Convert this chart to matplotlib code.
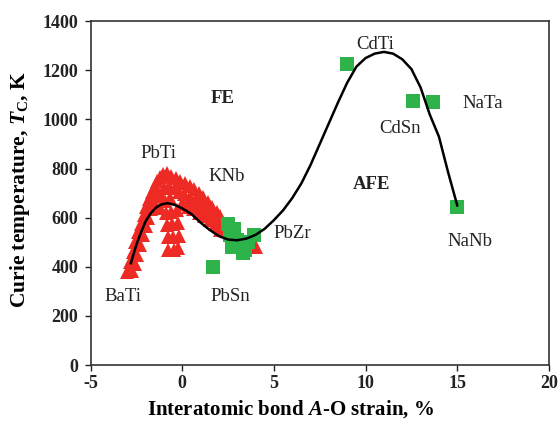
import matplotlib
matplotlib.use('Agg')
import matplotlib.pyplot as plt

plt.rcParams['font.family'] = 'Liberation Serif'
plt.rcParams['mathtext.fontset'] = 'custom'
plt.rcParams['mathtext.rm'] = 'Liberation Serif:bold'
plt.rcParams['mathtext.it'] = 'Liberation Serif:italic:bold'
plt.rcParams['axes.unicode_minus'] = False

# red triangles (Pb/Ba/K based compounds)
tri_x = [-3.0, -2.85, -2.7, -2.55, -2.4, -2.25, -2.1, -1.95, -1.8, -1.65, -1.5, -1.35, -1.2, -1.05,
         -2.75, -2.6, -2.45, -2.3, -2.15, -2.0, -1.85, -1.7, -1.55, -1.4,
         -0.75, -0.45, -0.25, -0.8, -0.5, -0.2, -0.85, -0.55, -0.25, -0.9, -0.6, -0.3,
         -0.95, -0.65, -1.0, -0.7, -1.2, -1.15,
         -0.85, -0.6, -0.35, -0.1, 0.15, 0.4, 0.65, 0.9, 1.15, 1.4, 1.65, 1.9, 2.05,
         -0.4, -0.2, 0.1, 0.4, 0.7, 1.0, 1.3, 1.6, 1.9, 2.05, 2.05,
         0.0, 0.3, 0.6, 0.9, 1.2, 1.5, 1.8, 3.5, 4.0]
tri_y = [380, 420, 460, 500, 540, 575, 610, 645, 675, 705, 730, 750, 765, 778,
         385, 410, 450, 490, 530, 565, 600, 635, 665, 695,
         470, 470, 475, 520, 520, 525, 570, 575, 580, 620, 625, 630,
         670, 680, 720, 730, 640, 690,
         780, 770, 760, 750, 740, 730, 715, 700, 685, 665, 645, 625, 605,
         720, 705, 695, 685, 670, 650, 630, 610, 590, 570, 550,
         655, 645, 635, 620, 605, 590, 575, 500, 480]

# green squares
sq_x = [9.0, 12.6, 13.7, 15.0, 1.7, 2.5, 2.6, 3.0, 2.7, 3.4, 3.6, 3.9, 2.8, 3.3]
sq_y = [1225, 1075, 1070, 643, 400, 575, 530, 510, 480, 470, 500, 530, 555, 455]

# fitted trend line
fit_x = [-2.8, -2.5, -2.25, -2.0, -1.7, -1.4, -1.1, -0.8, -0.4, 0.0, 0.5, 1.0, 1.5, 2.0, 2.5,
         3.0, 3.5, 4.0, 4.5, 5.0, 5.5, 6.0, 6.5, 7.0, 7.5, 8.0, 8.5, 9.0, 9.5, 10.0, 10.5,
         11.0, 11.5, 12.0, 12.5, 13.0, 13.25, 13.5, 14.0, 14.5, 15.0]
fit_y = [415, 490, 540, 585, 620, 643, 655, 659, 652, 638, 615, 580, 550, 525, 511,
         508, 515, 530, 555, 590, 630, 680, 740, 815, 900, 985, 1070, 1150, 1215, 1250, 1268,
         1275, 1268, 1245, 1205, 1130, 1075, 1020, 930, 785, 650]

labels = ['FE', 'AFE', 'PbTi', 'KNb', 'CdTi', 'CdSn', 'NaTa', 'NaNb', 'PbZr', 'PbSn', 'BaTi']
label_x = [2.2, 10.3, -1.3, 2.4, 10.5, 11.9, 16.4, 15.7, 6.0, 2.6, -3.25]
label_y = [1085, 735, 862, 768, 1305, 964, 1065, 504, 536, 280, 280]
label_bold = [True, True] + [False] * 9

fig = plt.figure(figsize=(5.59, 4.24), dpi=100)
ax = fig.add_axes([0.162, 0.139, 0.82, 0.811])

ax.plot(tri_x, tri_y, '^', color='#ee2a24', markersize=9.5, markeredgewidth=0, zorder=2)
ax.plot(sq_x, sq_y, 's', color='#2db34a', markersize=10.5, markeredgewidth=0, zorder=3)
ax.plot(fit_x, fit_y, '-', color='black', linewidth=1.8, zorder=4)

for t, x, y, b in zip(labels, label_x, label_y, label_bold):
    ax.text(x, y, t, fontsize=13.5, ha='center', va='center',
            fontweight='bold' if b else 'normal', color='#222222', zorder=5)

ax.set_xlim(-5, 20)
ax.set_ylim(0, 1400)
ax.set_xticks([-5, 0, 5, 10, 15, 20])
ax.set_yticks(range(0, 1401, 200))
for lab in ax.get_xticklabels() + ax.get_yticklabels():
    lab.set_fontweight('bold')
ax.tick_params(direction='out', length=4, width=1, labelsize=13, colors='#222222')
ax.tick_params(axis='y', pad=5)
for s in ax.spines.values():
    s.set_linewidth(1.2)
    s.set_color('#333333')

ax.set_xlabel(r'Interatomic bond $A$-O strain, %', fontsize=15, fontweight='bold')
ax.xaxis.set_label_coords(0.437, -0.097)
ax.set_ylabel(r'Curie temperature, $T_\mathrm{C}$, K', fontsize=15.5, fontweight='bold')
ax.yaxis.set_label_coords(-0.128, 0.51)

fig.savefig('out.png', dpi=100)
